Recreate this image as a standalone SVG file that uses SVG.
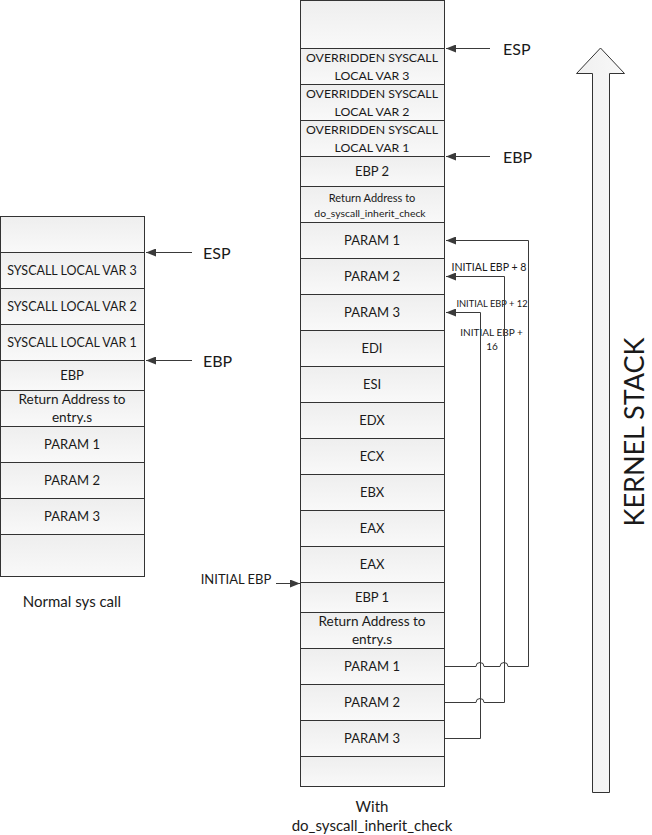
<svg xmlns="http://www.w3.org/2000/svg" width="652" height="835" viewBox="0 0 652 835">
<style>
text{font-family:Lato,"Liberation Sans",sans-serif;fill:#1a1a1a;text-anchor:middle;dominant-baseline:central}
.c{fill:url(#g);stroke:#333;stroke-width:1}
.t{font-size:13px}
.v{font-size:12.5px}
.o{font-size:12.3px}
.ra{font-size:13.6px}
.s{font-size:11px}
.cap{font-size:15px}
.r{font-size:16px;text-anchor:start}
.sm{font-size:10px}
.ln{fill:none;stroke:#3a3a3a;stroke-width:1}
</style>
<defs>
<linearGradient id="g" x1="0" y1="0" x2="0" y2="1"><stop offset="0" stop-color="#eeeeee"/><stop offset="1" stop-color="#f9f9f9"/></linearGradient>
<linearGradient id="ga" x1="0" y1="0" x2="1" y2="0"><stop offset="0" stop-color="#f0f0f0"/><stop offset="1" stop-color="#f8f8f8"/></linearGradient>
<marker id="ah" markerWidth="10" markerHeight="8" refX="10" refY="4" orient="auto" markerUnits="userSpaceOnUse"><path d="M0,0 L10,4 L0,8 Z" fill="#3a3a3a"/></marker>
</defs>

<g id="left-stack">
<g id="l0"><rect class="c" x="0.5" y="216.5" width="144" height="36"/></g>
<g id="l1"><rect class="c" x="0.5" y="252.5" width="144" height="36"/><text class="v" x="72" y="270">SYSCALL LOCAL VAR 3</text></g>
<g id="l2"><rect class="c" x="0.5" y="288.5" width="144" height="36"/><text class="v" x="72" y="306">SYSCALL LOCAL VAR 2</text></g>
<g id="l3"><rect class="c" x="0.5" y="324.5" width="144" height="36"/><text class="v" x="72" y="342">SYSCALL LOCAL VAR 1</text></g>
<g id="l4"><rect class="c" x="0.5" y="360.5" width="144" height="30"/><text class="t" x="72" y="375">EBP</text></g>
<g id="l5"><rect class="c" x="0.5" y="390.5" width="144" height="36"/><text class="ra" x="72" y="399">Return Address to</text><text class="ra" x="72" y="417">entry.s</text></g>
<g id="l6"><rect class="c" x="0.5" y="426.5" width="144" height="36"/><text class="t" x="72" y="444">PARAM 1</text></g>
<g id="l7"><rect class="c" x="0.5" y="462.5" width="144" height="36"/><text class="t" x="72" y="480">PARAM 2</text></g>
<g id="l8"><rect class="c" x="0.5" y="498.5" width="144" height="36"/><text class="t" x="72" y="516">PARAM 3</text></g>
<g id="l9"><rect class="c" x="0.5" y="534.5" width="144" height="42"/></g>
<text class="cap" x="72" y="601">Normal sys call</text>
</g>

<g id="mid-stack">
<g id="m0"><rect class="c" x="300.5" y="0.5" width="144" height="48"/></g>
<g id="m1"><rect class="c" x="300.5" y="48.5" width="144" height="36"/><text class="o" x="372" y="57">OVERRIDDEN SYSCALL</text><text class="o" x="372" y="75">LOCAL VAR 3</text></g>
<g id="m2"><rect class="c" x="300.5" y="84.5" width="144" height="36"/><text class="o" x="372" y="93">OVERRIDDEN SYSCALL</text><text class="o" x="372" y="111">LOCAL VAR 2</text></g>
<g id="m3"><rect class="c" x="300.5" y="120.5" width="144" height="36"/><text class="o" x="372" y="129">OVERRIDDEN SYSCALL</text><text class="o" x="372" y="147">LOCAL VAR 1</text></g>
<g id="m4"><rect class="c" x="300.5" y="156.5" width="144" height="30"/><text class="t" x="372" y="171">EBP 2</text></g>
<g id="m5"><rect class="c" x="300.5" y="186.5" width="144" height="36"/><text class="s" x="372" y="197">Return Address to</text><text class="s" x="370" y="213" style="font-size:10.4px">do_syscall_inherit_check</text></g>
<g id="m6"><rect class="c" x="300.5" y="222.5" width="144" height="36"/><text class="t" x="372" y="240">PARAM 1</text></g>
<g id="m7"><rect class="c" x="300.5" y="258.5" width="144" height="36"/><text class="t" x="372" y="276">PARAM 2</text></g>
<g id="m8"><rect class="c" x="300.5" y="294.5" width="144" height="36"/><text class="t" x="372" y="312">PARAM 3</text></g>
<g id="m9"><rect class="c" x="300.5" y="330.5" width="144" height="36"/><text class="t" x="372" y="348">EDI</text></g>
<g id="m10"><rect class="c" x="300.5" y="366.5" width="144" height="36"/><text class="t" x="372" y="384">ESI</text></g>
<g id="m11"><rect class="c" x="300.5" y="402.5" width="144" height="36"/><text class="t" x="372" y="420">EDX</text></g>
<g id="m12"><rect class="c" x="300.5" y="438.5" width="144" height="36"/><text class="t" x="372" y="456">ECX</text></g>
<g id="m13"><rect class="c" x="300.5" y="474.5" width="144" height="36"/><text class="t" x="372" y="492">EBX</text></g>
<g id="m14"><rect class="c" x="300.5" y="510.5" width="144" height="36"/><text class="t" x="372" y="528">EAX</text></g>
<g id="m15"><rect class="c" x="300.5" y="546.5" width="144" height="36"/><text class="t" x="372" y="564">EAX</text></g>
<g id="m16"><rect class="c" x="300.5" y="582.5" width="144" height="30"/><text class="t" x="372" y="597">EBP 1</text></g>
<g id="m17"><rect class="c" x="300.5" y="612.5" width="144" height="36"/><text class="ra" x="372" y="621">Return Address to</text><text class="ra" x="372" y="639">entry.s</text></g>
<g id="m18"><rect class="c" x="300.5" y="648.5" width="144" height="36"/><text class="t" x="372" y="666">PARAM 1</text></g>
<g id="m19"><rect class="c" x="300.5" y="684.5" width="144" height="36"/><text class="t" x="372" y="702">PARAM 2</text></g>
<g id="m20"><rect class="c" x="300.5" y="720.5" width="144" height="36"/><text class="t" x="372" y="738">PARAM 3</text></g>
<g id="m21"><rect class="c" x="300.5" y="756.5" width="144" height="30"/></g>
<text class="cap" x="372" y="806">With</text>
<text class="cap" x="372" y="825">do_syscall_inherit_check</text>
</g>

<g id="labels">
<text class="r" x="203" y="252">ESP</text>
<text class="r" x="203" y="360">EBP</text>
<text class="r" x="503" y="48">ESP</text>
<text class="r" x="503" y="156">EBP</text>
<text class="t" x="236" y="579">INITIAL EBP</text>
<text class="sm" x="489" y="267" style="font-size:10.6px">INITIAL EBP + 8</text>
<text class="sm" x="492" y="303" style="font-size:9.3px">INITIAL EBP + 12</text>
<text class="sm" x="491.5" y="332">INITIAL EBP +</text>
<text class="sm" x="492" y="346">16</text>
</g>

<g id="connectors">
<path class="ln" d="M192,252.5 H146" marker-end="url(#ah)"/>
<path class="ln" d="M192,360.5 H146" marker-end="url(#ah)"/>
<path class="ln" d="M490,48.5 H446" marker-end="url(#ah)"/>
<path class="ln" d="M490,156.5 H446" marker-end="url(#ah)"/>
<path class="ln" d="M276,583.5 H300" marker-end="url(#ah)"/>
<path class="ln" d="M445,666.5 H476 a4,4 0 0 1 8,0 H500 a4,4 0 0 1 8,0 H528.5 V240.5 H446" marker-end="url(#ah)"/>
<path class="ln" d="M445,702.5 H476 a4,4 0 0 1 8,0 H504.5 V276.5 H446" marker-end="url(#ah)"/>
<path class="ln" d="M445,738.5 H480.5 V312.5 H446" marker-end="url(#ah)"/>
</g>

<g id="kernel-stack">
<polygon points="600.5,48 624.5,73.5 609.5,73.5 609.5,792.5 592.5,792.5 592.5,73.5 576.5,73.5" fill="url(#ga)" stroke="#333" stroke-width="1"/>
<text transform="translate(633,432) rotate(-90)" style="font-size:27px">KERNEL STACK</text>
</g>
</svg>
